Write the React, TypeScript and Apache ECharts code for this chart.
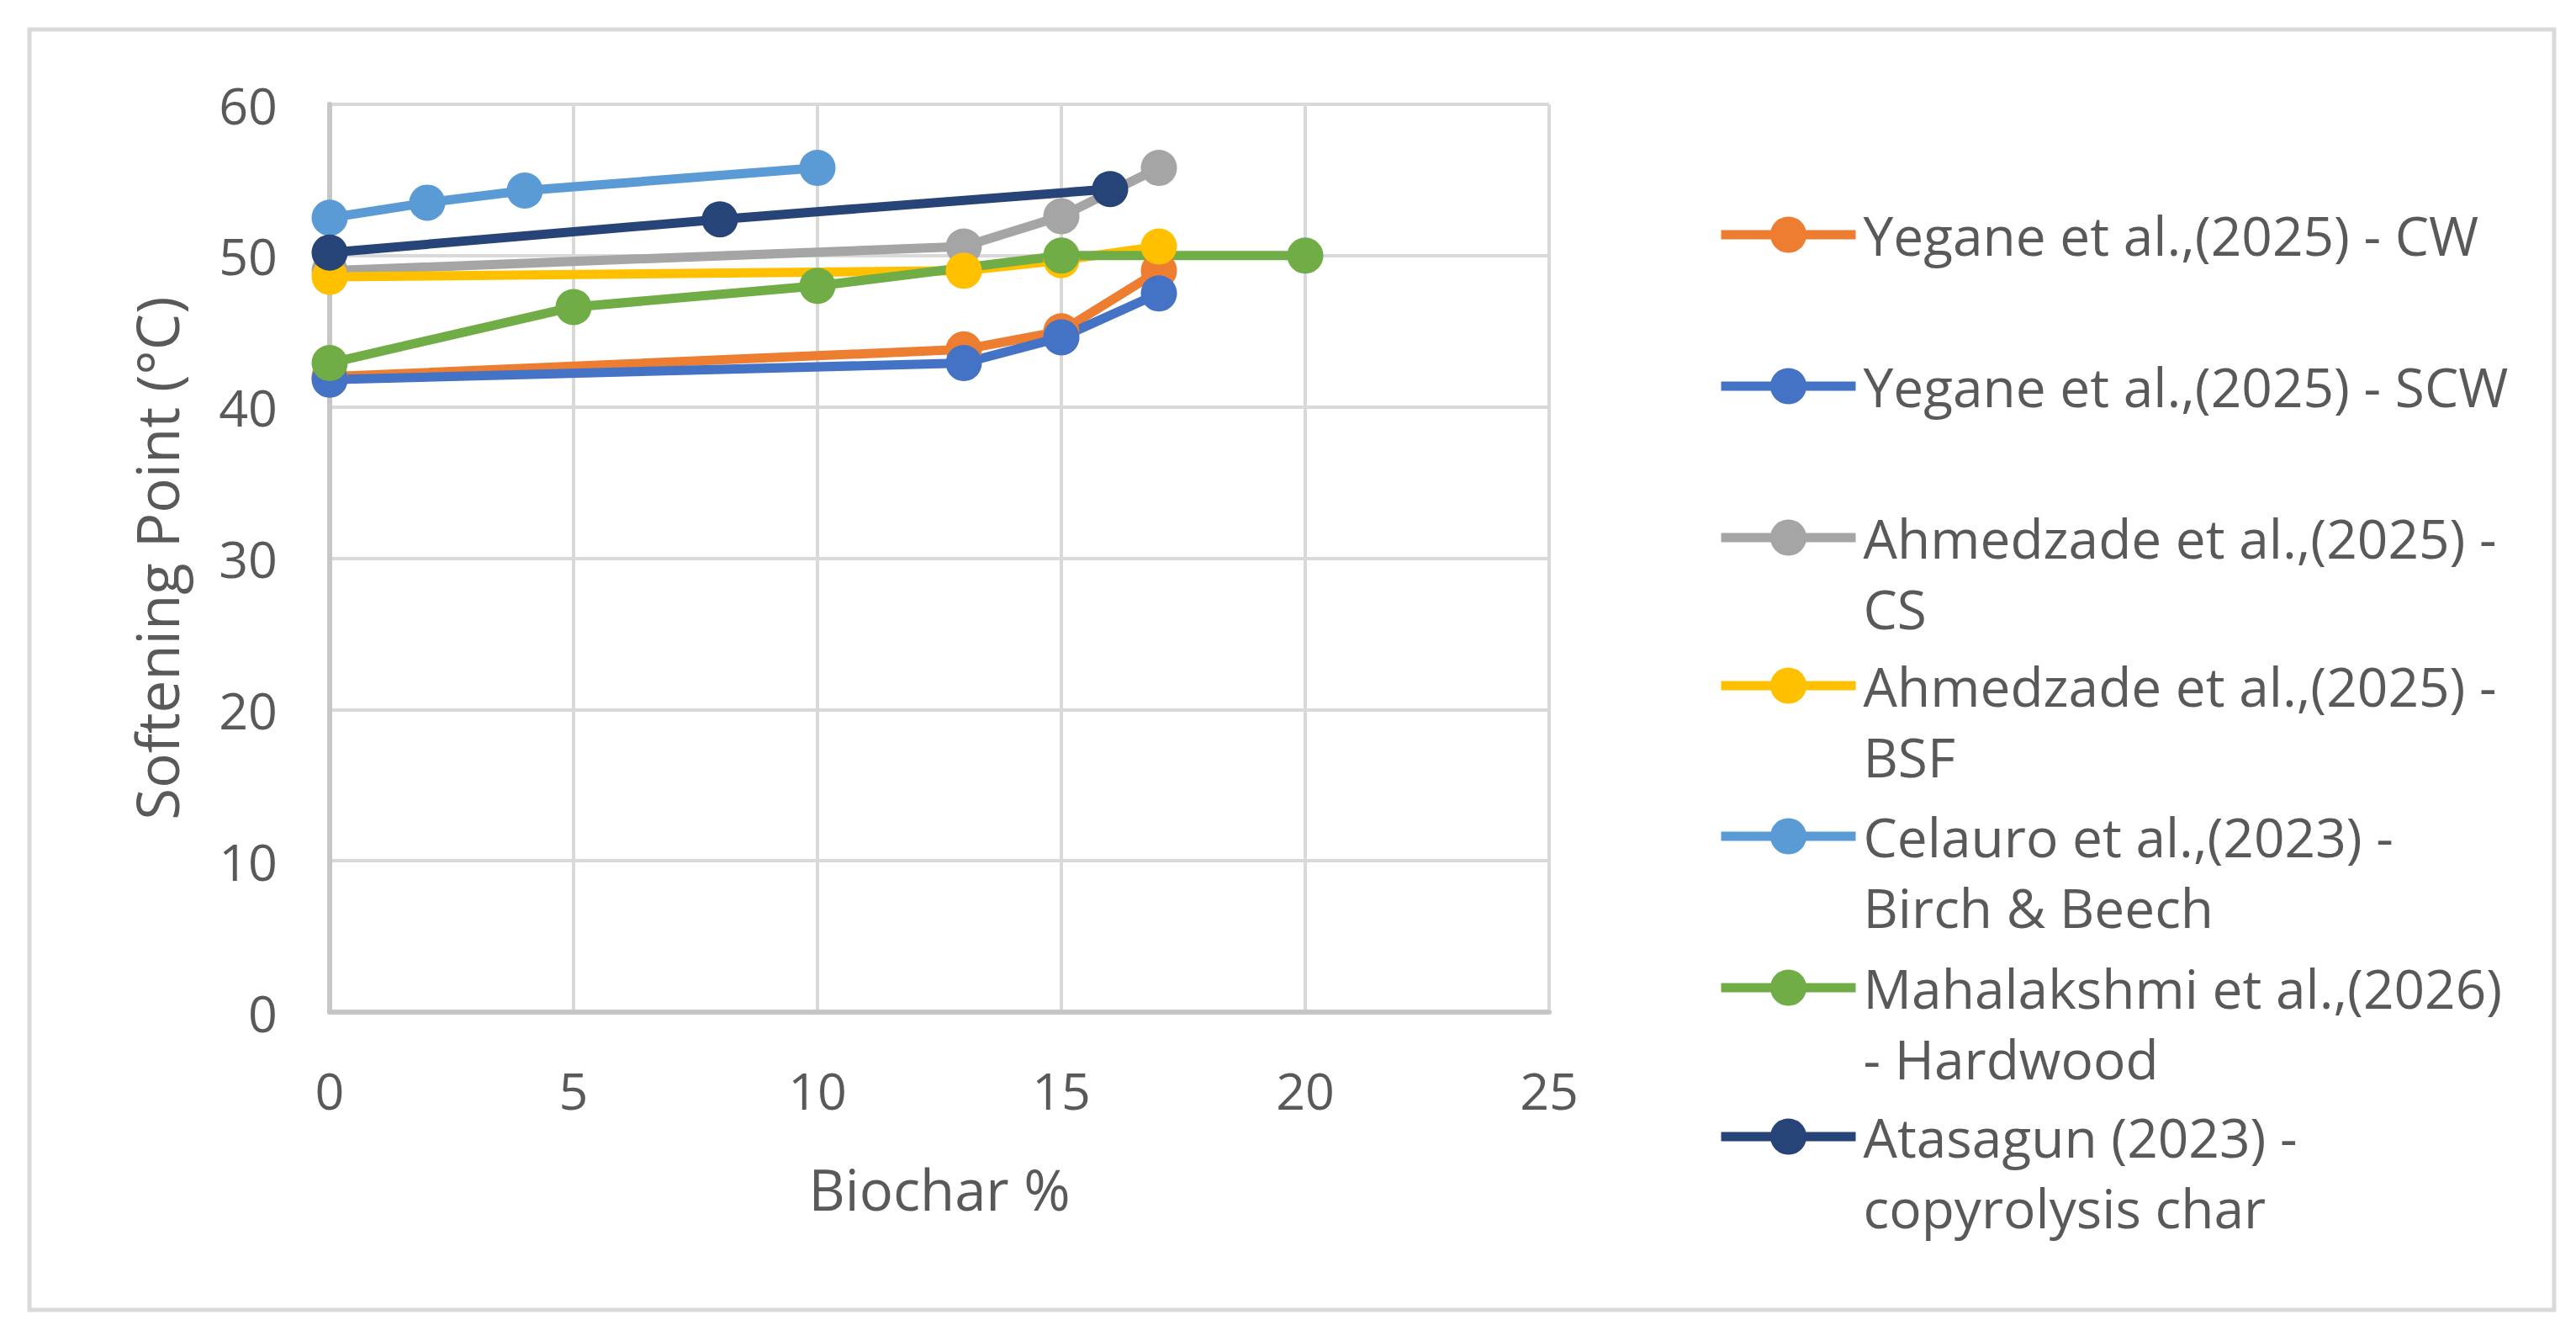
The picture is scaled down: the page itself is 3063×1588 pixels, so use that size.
import React, { useEffect, useRef } from "react";
import * as echarts from "echarts";

const seriesNames = [
  "Yegane et al.,(2025) - CW",
  "Yegane et al.,(2025) - SCW",
  "Ahmedzade et al.,(2025) - CS",
  "Ahmedzade et al.,(2025) - BSF",
  "Celauro et al.,(2023) - Birch & Beech",
  "Mahalakshmi et al.,(2026) - Hardwood",
  "Atasagun (2023) - copyrolysis char",
];
const legendLabels = [
  "Yegane et al.,(2025) - CW",
  "Yegane et al.,(2025) - SCW",
  "Ahmedzade et al.,(2025) -\nCS",
  "Ahmedzade et al.,(2025) -\nBSF",
  "Celauro et al.,(2023) -\nBirch & Beech",
  "Mahalakshmi et al.,(2026)\n- Hardwood",
  "Atasagun (2023) -\ncopyrolysis char",
];
const seriesColors = ["#ED7D31", "#4472C4", "#A5A5A5", "#FFC000", "#5B9BD5", "#70AD47", "#264478"];

const cwX = [0, 13, 15, 17];
const cwY = [42.0, 43.8, 45.0, 49.0];
const scwX = [0, 13, 15, 17];
const scwY = [41.8, 42.9, 44.6, 47.5];
const csX = [0, 13, 15, 17];
const csY = [49.0, 50.6, 52.6, 55.8];
const bsfX = [0, 13, 15, 17];
const bsfY = [48.6, 49.0, 49.7, 50.6];
const celauroX = [0, 2, 4, 10];
const celauroY = [52.5, 53.5, 54.3, 55.8];
const mahaX = [0, 5, 10, 15, 20];
const mahaY = [42.9, 46.6, 48.0, 50.0, 50.0];
const atasagunX = [0, 8, 16];
const atasagunY = [50.2, 52.4, 54.4];

const xTicks = { min: 0, max: 25, interval: 5 };
const yTicks = { min: 0, max: 60, interval: 10 };

const allX = [cwX, scwX, csX, bsfX, celauroX, mahaX, atasagunX];
const allY = [cwY, scwY, csY, bsfY, celauroY, mahaY, atasagunY];

const FONT = "'Open Sans', 'Noto Sans', sans-serif";
const TEXT = "#595959";

export default function App() {
  const ref = useRef<HTMLDivElement>(null);

  useEffect(() => {
    document.body.style.margin = "0";
    if (!ref.current) return;
    const chart = echarts.init(ref.current, null, { renderer: "svg" });

    const legendCenters = [279, 459, 639, 815, 994, 1174, 1351];
    const lineH = 84;
    const itemH = 54;

    const legends = seriesNames.map((name, i) => {
      const twoLine = legendLabels[i].includes("\n");
      return {
        show: true,
        orient: "vertical",
        left: 2041,
        top: twoLine ? legendCenters[i] - 126 : legendCenters[i] - lineH / 2,
        padding: 0,
        itemWidth: 160,
        itemHeight: itemH,
        data: [name],
        selectedMode: false,
        formatter: () => (twoLine ? "\n" + legendLabels[i] : legendLabels[i]),
        lineStyle: { width: 11 },
        textStyle: {
          fontFamily: FONT,
          fontSize: 64,
          color: TEXT,
          lineHeight: lineH,
          padding: [0, 0, 0, 4],
        },
      };
    });

    const series = seriesNames.map((name, i) => ({
      name,
      type: "line",
      data: allX[i].map((x, j) => [x, allY[i][j]]),
      symbol: "circle",
      symbolSize: 43,
      showSymbol: true,
      lineStyle: { color: seriesColors[i], width: 11 },
      itemStyle: { color: seriesColors[i] },
      emphasis: { disabled: true },
      z: 2,
    }));

    chart.setOption({
      animation: false,
      backgroundColor: "#ffffff",
      graphic: [
        {
          type: "rect",
          shape: { x: 35, y: 35, width: 3002, height: 1522 },
          style: { fill: "none", stroke: "#d9d9d9", lineWidth: 5 },
          silent: true,
        },
      ],
      grid: { left: 392, top: 124, right: 3063 - 1842, bottom: 1588 - 1203, containLabel: false },
      xAxis: {
        type: "value",
        min: xTicks.min,
        max: xTicks.max,
        interval: xTicks.interval,
        name: "Biochar %",
        nameLocation: "middle",
        nameGap: 176,
        nameTextStyle: { fontFamily: FONT, fontSize: 67, color: TEXT },
        axisLine: { show: true, onZero: false, lineStyle: { color: "#c6c6c6", width: 6 } },
        axisTick: { show: false },
        axisLabel: { fontFamily: FONT, fontSize: 61, color: TEXT, margin: 62 },
        splitLine: { show: true, lineStyle: { color: "#d9d9d9", width: 4 } },
      },
      yAxis: {
        type: "value",
        min: yTicks.min,
        max: yTicks.max,
        interval: yTicks.interval,
        name: "Softening Point (°C)",
        nameLocation: "middle",
        nameGap: 172,
        nameTextStyle: { fontFamily: FONT, fontSize: 69, color: TEXT },
        axisLine: { show: true, lineStyle: { color: "#c6c6c6", width: 6 } },
        axisTick: { show: false },
        axisLabel: { fontFamily: FONT, fontSize: 61, color: TEXT, margin: 62 },
        splitLine: { show: true, lineStyle: { color: "#d9d9d9", width: 4 } },
      },
      legend: legends,
      series,
    });

    return () => chart.dispose();
  }, []);

  return <div ref={ref} style={{ width: 3063, height: 1588 }} />;
}
